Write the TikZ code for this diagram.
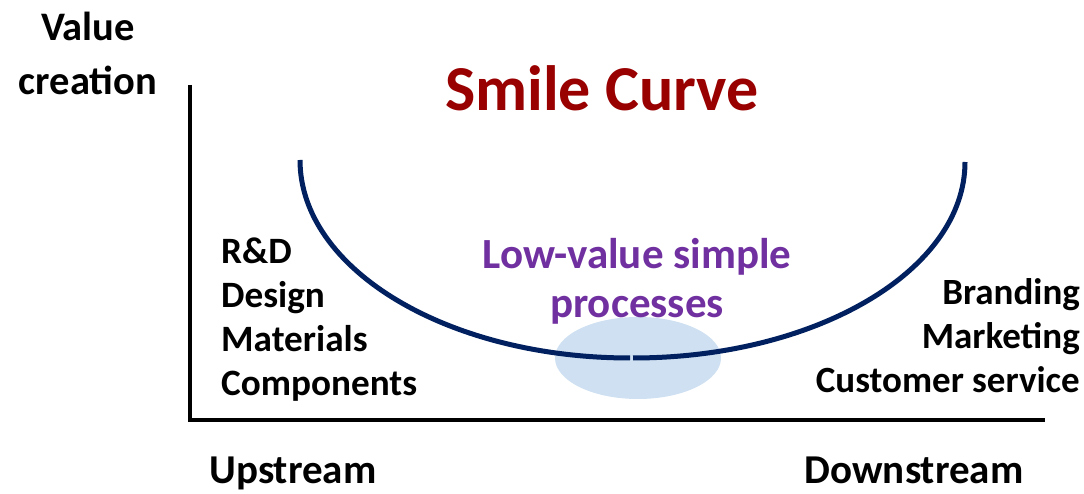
\documentclass[tikz,border=0pt]{standalone}
\usepackage{fontspec}
\setmainfont{Carlito}
\usetikzlibrary{positioning}
\definecolor{smilered}{RGB}{153,0,0}
\definecolor{smilenavy}{RGB}{0,32,96}
\definecolor{lowpurple}{RGB}{112,48,160}
\definecolor{lowblue}{RGB}{206,224,241}

\begin{document}
\begin{tikzpicture}[x=1pt,y=1pt,
    lbl/.style={font=\fontsize{37.2}{44}\selectfont\bfseries, inner sep=0pt},
    axis/.style={line width=3.5pt, black},
    smile/.style={line width=5pt, smilenavy}]
   \useasboundingbox (0,0) rectangle (1084,494);
   % axes
   \coordinate (origin) at (190,74);
   \coordinate (ytop) at (190,409);
   \coordinate (xend) at (1045,74);
   \draw[axis] (ytop) -- (origin);
   \draw[axis] ([xshift=-2pt]origin) -- (xend);
   \node[lbl, align=center, font=\fontsize{40.5}{54}\selectfont\bfseries] (value) at (88,441) {Value\\creation};
   \node[lbl, anchor=base, font=\fontsize{41}{46}\selectfont\bfseries] (up) at (293,10) {Upstream};
   \node[lbl, anchor=base, font=\fontsize{41}{46}\selectfont\bfseries] (down) at (914,10) {Downstream};
   % title
   \node[lbl, font=\fontsize{64}{70}\selectfont\bfseries, text=smilered] (title) at (602,406) {Smile Curve};
   % low value zone
   \coordinate (lowzone) at (638,136);
   \fill[lowblue] (lowzone) ellipse[x radius=83, y radius=41];
   % the curve
   \coordinate (cl) at (300,334);
   \coordinate (cb) at (633,136);
   \draw[smile] (cl) arc[start angle=180, end angle=270, x radius=330, y radius=198];
   \draw[smile] (cb) arc[start angle=270, end angle=360, x radius=332, y radius=196];
   \node[lbl, align=center, text=lowpurple, font=\fontsize{43}{49}\selectfont\bfseries] (lowtxt) at (637,213) {Low-value simple\\processes};
   % stages
   \node[lbl, align=left, anchor=west] (upstage) at (221,174) {R\&D\\Design\\Materials\\Components};
   \node[lbl, align=right, anchor=east, font=\fontsize{37}{44}\selectfont\bfseries] (downstage) at (1080,158) {Branding\\Marketing\\Customer service};
\end{tikzpicture}
\end{document}
